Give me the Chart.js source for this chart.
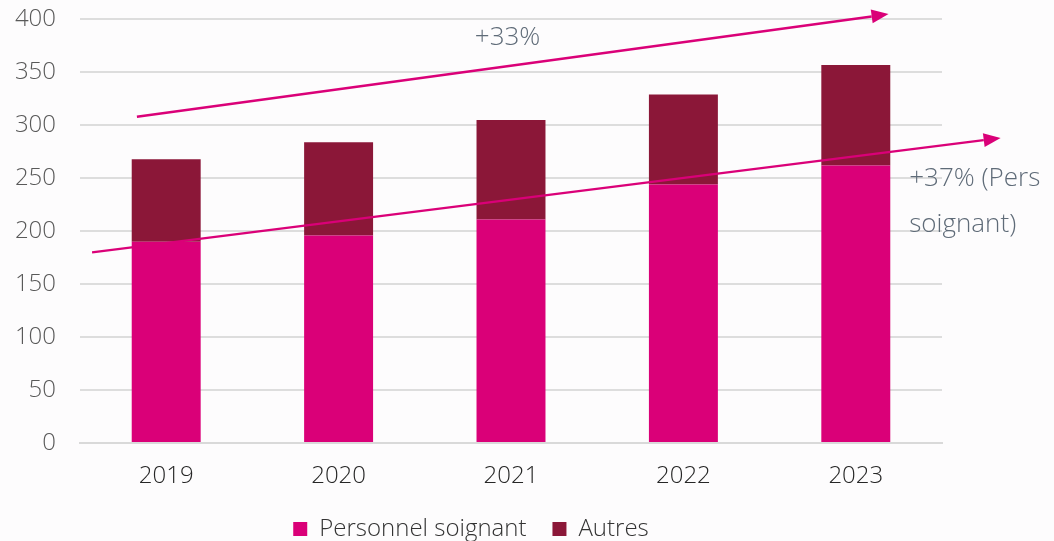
<!DOCTYPE html>
<html>
<head>
<meta charset="utf-8">
<script src="https://cdn.jsdelivr.net/npm/chart.js@4.4.0/dist/chart.umd.min.js"></script>
<style>
    html, body { margin: 0; padding: 0; background: #fdfcfd; }
    #wrap { width: 1054px; height: 541px; }
</style>
</head>
<body>
<div id="wrap"><canvas id="chart" width="1054" height="541"></canvas></div>
<script>
const years = ['2019', '2020', '2021', '2022', '2023'];
const soignants = [190, 196, 211, 244, 262];
const autres = [78, 88, 94, 85, 95];

// trend arrows: [x index, value] start and end
const arrowTotal = [[-0.17, 308], [4.19, 405]];
const arrowSoignants = [[-0.43, 180], [4.84, 288]];
const labelTotal = '+33%';
const labelSoignants = ['+37% (Pers', 'soignant)'];

const FONT = "'Open Sans', 'Noto Sans', sans-serif";
const PINK = '#da0078';
const BORDEAUX = '#8b1738';

function drawArrow(ctx, x1, y1, x2, y2) {
    let ang = Math.atan2(y2 - y1, x2 - x1);
    let head = 17;
    let bx = x2 - head * Math.cos(ang);
    let by = y2 - head * Math.sin(ang);
    ctx.beginPath();
    ctx.moveTo(x1, y1);
    ctx.lineTo(bx, by);
    ctx.stroke();
    ctx.beginPath();
    ctx.moveTo(x2, y2);
    ctx.lineTo(bx + 7 * Math.sin(ang), by - 7 * Math.cos(ang));
    ctx.lineTo(bx - 7 * Math.sin(ang), by + 7 * Math.cos(ang));
    ctx.closePath();
    ctx.fill();
}

const arrowsPlugin = {
    id: 'arrows',
    afterDatasetsDraw(chart) {
        const ctx = chart.ctx;
        const x = chart.scales.x;
        const y = chart.scales.y;
        ctx.save();
        ctx.strokeStyle = PINK;
        ctx.fillStyle = PINK;
        ctx.lineWidth = 2.5;
        [arrowTotal, arrowSoignants].forEach(a => {
            drawArrow(ctx,
                x.getPixelForValue(a[0][0]), y.getPixelForValue(a[0][1]),
                x.getPixelForValue(a[1][0]), y.getPixelForValue(a[1][1]));
        });
        ctx.fillStyle = '#5f6b78';
        ctx.font = '300 26px ' + FONT;
        ctx.textBaseline = 'middle';
        ctx.textAlign = 'center';
        ctx.fillText(labelTotal, x.getPixelForValue(1.98), y.getPixelForValue(383));
        ctx.textAlign = 'left';
        ctx.fillText(labelSoignants[0], x.getPixelForValue(4.31), y.getPixelForValue(250));
        ctx.fillText(labelSoignants[1], x.getPixelForValue(4.31), y.getPixelForValue(206));
        ctx.restore();
    }
};

const config = {
    type: 'bar',
    data: {
        labels: years,
        datasets: [
            {
                label: 'Personnel soignant',
                data: soignants,
                backgroundColor: PINK,
                barPercentage: 0.4,
                categoryPercentage: 1
            },
            {
                label: 'Autres',
                data: autres,
                backgroundColor: BORDEAUX,
                barPercentage: 0.4,
                categoryPercentage: 1
            }
        ]
    },
    options: {
        responsive: false,
        animation: false,
        layout: {
            padding: { top: 0, right: 112, bottom: -10, left: 0 }
        },
        plugins: {
            legend: {
                position: 'bottom',
                labels: {
                    font: { family: FONT, size: 24, weight: '300' },
                    color: '#333333',
                    boxWidth: 14,
                    boxHeight: 14,
                    padding: 26
                }
            },
            tooltip: { enabled: false }
        },
        scales: {
            x: {
                stacked: true,
                grid: { display: false },
                border: { color: '#d9d9d9', width: 2 },
                ticks: {
                    font: { family: FONT, size: 24, weight: '300' },
                    color: '#262626',
                    padding: 11
                },
                afterFit: (scale) => { scale.height = 48; }
            },
            y: {
                stacked: true,
                min: 0,
                max: 400,
                ticks: {
                    stepSize: 50,
                    font: { family: FONT, size: 24, weight: '300' },
                    color: '#595959',
                    padding: 5
                },
                grid: { color: '#dddddd', lineWidth: 2, drawTicks: true, tickLength: 19, tickColor: 'rgba(0,0,0,0)' },
                border: { display: false },
                afterFit: (scale) => { scale.width = 80; }
            }
        }
    },
    plugins: [arrowsPlugin]
};

new Chart(document.getElementById('chart'), config);
</script>
</body>
</html>
